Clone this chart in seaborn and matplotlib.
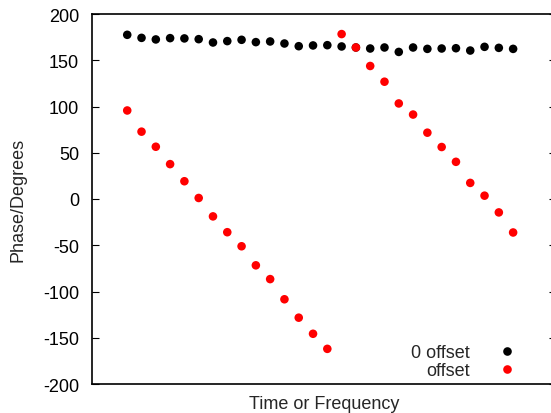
import matplotlib
matplotlib.use("Agg")
import matplotlib.pyplot as plt
import seaborn as sns
import pandas as pd
import numpy as np

# Phase samples (degrees) for the two series
phase_zero_offset = [177.5, 174.2, 172.5, 173.9, 173.6, 172.8, 169.2, 170.7, 172.1, 169.6,
                     170.3, 168.1, 165.2, 166.0, 166.3, 164.9, 163.8, 162.7, 163.8, 159.0,
                     163.8, 162.3, 162.7, 163.0, 160.5, 164.5, 163.4, 162.3]
phase_offset = [95.7, 72.8, 56.5, 37.7, 19.2, 1.1, -18.8, -35.9, -51.1, -71.7,
                -86.6, -108.4, -128.3, -145.7, -162.0, 178.3, 163.8, 143.8, 126.8, 103.3,
                91.3, 71.7, 56.2, 40.2, 17.4, 3.6, -14.5, -36.2]
series_names = ["0 offset", "offset"]
series_colors = ["black", "red"]
y_ticks = [-200, -150, -100, -50, 0, 50, 100, 150, 200]

sample = np.arange(len(phase_zero_offset))
df = pd.DataFrame({
    "sample": np.concatenate([sample, sample]),
    "phase": phase_zero_offset + phase_offset,
    "series": [series_names[0]] * len(sample) + [series_names[1]] * len(sample),
})

sns.set_style("white")
plt.rcParams["font.family"] = ["Liberation Sans", "DejaVu Sans"]
FS = 13

fig = plt.figure(figsize=(5.51, 4.14), dpi=100)
W, H = 551, 414
left, right, top, bottom = 91.5, 556.0, 15.0, 385.0
ax = fig.add_axes([left / W, 1 - bottom / H, (right - left) / W, (bottom - top) / H])

sns.scatterplot(data=df, x="sample", y="phase", hue="series",
                palette=dict(zip(series_names, series_colors)),
                s=38, linewidth=0, ax=ax, legend=False)

ax.set_xlim(-2.5, 30)
ax.set_ylim(-200, 200)
ax.set_yticks(y_ticks)
ax.set_yticklabels([str(v) for v in y_ticks], fontsize=FS)
ax.set_xticks([])
ax.tick_params(axis="y", direction="in", length=5, width=0.8, pad=9,
               left=True, right=True, colors="black")
for sp in ax.spines.values():
    sp.set_color("black")
    sp.set_linewidth(1.2)

ax.set_xlabel("Time or Frequency", fontsize=FS, labelpad=8)
ax.set_ylabel("Phase/Degrees", fontsize=FS, labelpad=12)

# gnuplot-style key: text first, then the marker
handles = [plt.Line2D([], [], linestyle="", marker="o", markersize=6.2,
                      markerfacecolor=c, markeredgewidth=0) for c in series_colors]
leg = ax.legend(handles, series_names, markerfirst=False, frameon=False,
                fontsize=FS, loc="lower right",
                bbox_to_anchor=((516 - left) / (right - left), (385 - 380) / (bottom - top)),
                borderaxespad=0, borderpad=0, handletextpad=1.55, labelspacing=0.05,
                handlelength=1.0)
for t in leg.get_texts():
    t.set_ha("right")

fig.savefig("out.png", dpi=100)
